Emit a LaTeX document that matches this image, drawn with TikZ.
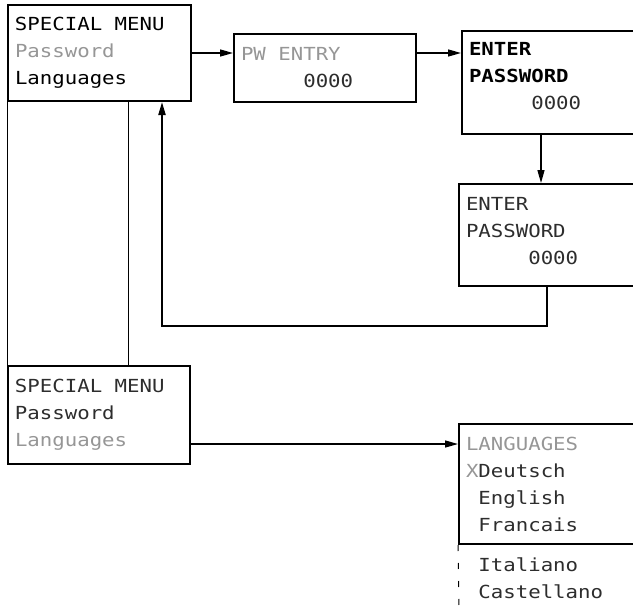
\documentclass[tikz,border=0pt]{standalone}
\usepackage{fontspec}
\usetikzlibrary{positioning,arrows.meta,calc}
\newfontfamily\lcdfont[FakeStretch=1.15]{DejaVu Sans Mono}
\definecolor{lcdgray}{RGB}{150,150,150}
\definecolor{lcddark}{RGB}{45,45,45}
\newcommand{\lcdoff}[1]{\textcolor{lcdgray}{#1}}
\newcommand{\lcdgap}[1]{\rule[-#1]{0pt}{#1}}
\newcommand{\lcdsp}{\phantom{X}}

\begin{document}
\begin{tikzpicture}[x=1pt,y=-1pt,
box/.style={draw,line width=2pt,anchor=north west,align=left,inner xsep=7pt,
inner ysep=0pt,font=\lcdfont\fontsize{18}{27}\selectfont},
boldbox/.style={box,font=\lcdfont\bfseries\fontsize{18}{27}\selectfont},
arr/.style={-{Triangle[length=13pt,width=7pt]},line width=1.3pt}]
\useasboundingbox (0,0) rectangle (633,608);
\clip (0,0) rectangle (633,608);
% menu screens
\node[box,text width=169pt,minimum height=96pt] (menu) at (7,4)
{SPECIAL\lcdsp MENU\\\lcdoff{Password}\\Languages};
\node[box,text width=168pt,minimum height=68pt] (pwentry) at (233,33)
{\lcdoff{PW\lcdsp ENTRY}\\\lcdsp\lcdsp\lcdsp\lcdsp\lcdsp\textcolor{lcddark}{0000}};
\node[boldbox,text width=186pt,minimum height=103pt] (enterpw) at (461,30)
{ENTER\\PASSWORD\\\lcdsp\lcdsp\lcdsp\lcdsp\lcdsp\textmd{\textcolor{lcddark}{0000}}\lcdgap{13pt}};
\node[box,text=lcddark,text width=186pt,minimum height=102pt] (confirmpw) at (458,183)
{ENTER\\PASSWORD\\\lcdsp\lcdsp\lcdsp\lcdsp\lcdsp 0000\lcdgap{8pt}};
\node[box,text=lcddark,text width=168pt,minimum height=98pt] (menu2) at (7,365)
{SPECIAL\lcdsp MENU\\Password\\\lcdoff{Languages}};
\node[box,text=lcddark,text width=186pt,minimum height=120pt] (langs) at (458,423)
{\lcdoff{LANGUAGES}\\\lcdoff{X}Deutsch\\\lcdsp English\\\lcdsp Francais};
\node[box,draw=none,text=lcddark,text width=186pt] (morelangs) at (458,557)
{\lcdsp Italiano\\\lcdsp Castellano};
% helper points
\coordinate (split) at (128,0);
\coordinate (down) at (541,0);
\coordinate (fbright) at (547,326);
\coordinate (fbleft) at (162,326);
\coordinate (langrow) at (0,444);
\coordinate (listend) at (459,608);
% connectors
\draw[arr] (menu.east) -- (menu.east -| pwentry.west);
\draw[arr] (menu.east -| pwentry.east) -- (menu.east -| enterpw.west);
\draw[arr] (down |- enterpw.south) -- (down |- confirmpw.north);
\draw[arr,line width=2pt] (fbright |- confirmpw.south) -- (fbright) -- (fbleft) -- (fbleft |- menu.south);
\draw[line width=1pt] (menu.south west) -- (menu2.north west);
\draw[line width=1pt] (split |- menu.south) -- (split |- menu2.north);
\draw[arr] (langrow -| menu2.east) -- (langrow -| langs.west);
\draw[line width=1pt,dash pattern=on 6pt off 12pt] (langs.south west) -- (listend);
\end{tikzpicture}
\end{document}
